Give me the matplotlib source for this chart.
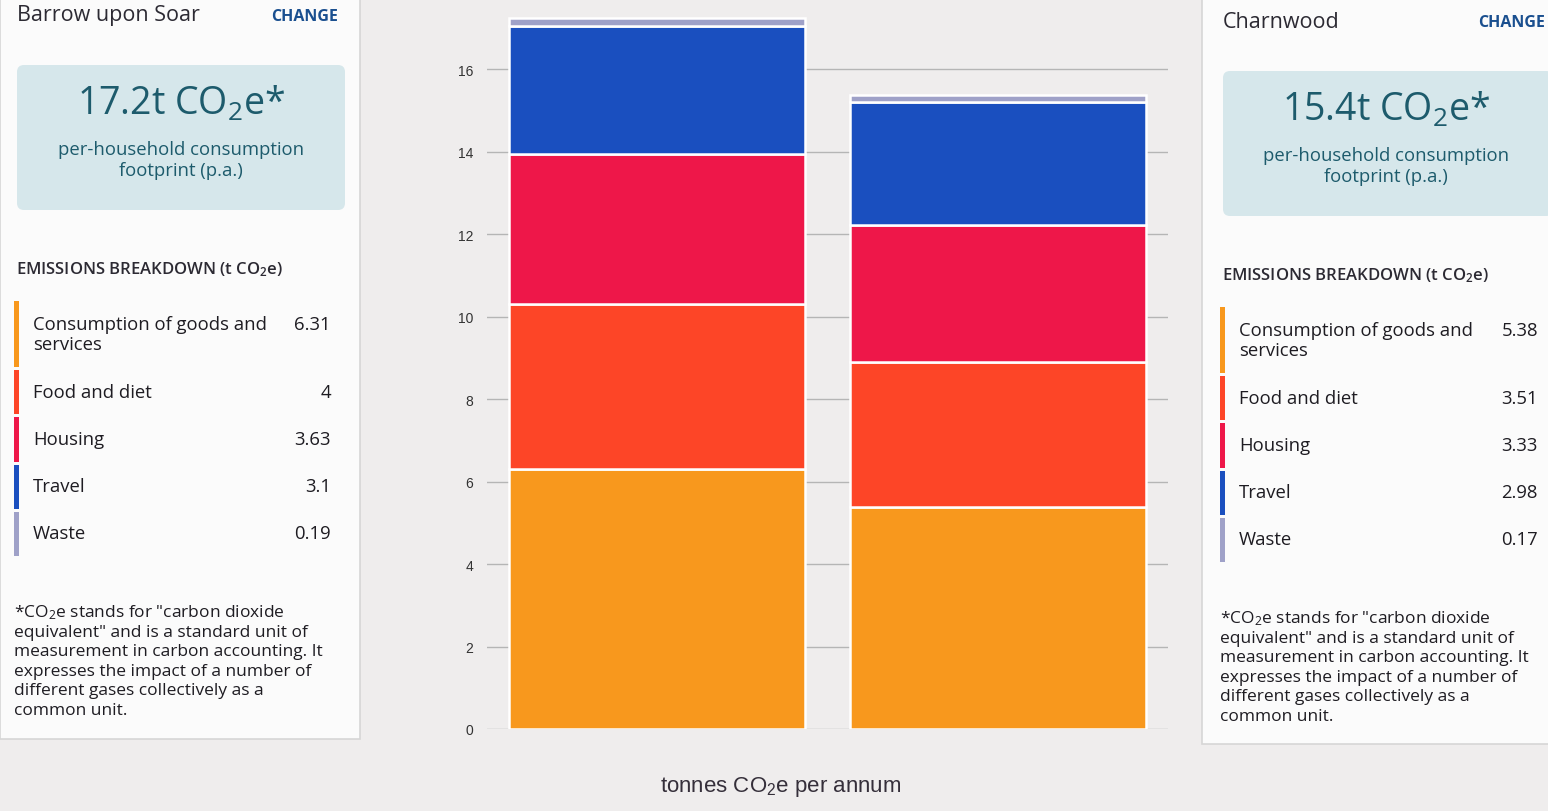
import numpy as np
import matplotlib
matplotlib.use("Agg")
import matplotlib.pyplot as plt
from matplotlib.patches import Rectangle, FancyBboxPatch

plt.rcParams['font.family'] = ['Open Sans', 'DejaVu Sans']
plt.rcParams['mathtext.default'] = 'regular'

# ---- data ----
areas = ['Barrow upon Soar', 'Charnwood']
categories = ['Consumption of goods and\nservices', 'Food and diet',
              'Housing', 'Travel', 'Waste']
barrow = [6.31, 4, 3.63, 3.1, 0.19]
charnwood = [5.38, 3.51, 3.33, 2.98, 0.17]
yticks = [0, 2, 4, 6, 8, 10, 12, 14, 16]
footnote = ['*CO$_2$e stands for "carbon dioxide',
            'equivalent" and is a standard unit of',
            'measurement in carbon accounting. It',
            'expresses the impact of a number of',
            'different gases collectively as a',
            'common unit.']

colors = ['#f8981d', '#fd4527', '#ee1749', '#1a4fbf', '#9fa1c8']
PAGE = '#efeded'
CARD = '#fbfbfb'
TEAL = '#1d5b6c'
INK = '#2c2a33'
TXT = '#1e1c22'

W, H = 1548, 812
fig = plt.figure(figsize=(W / 100, H / 100), dpi=100, facecolor=PAGE)

# overlay axes in pixel coordinates for the two side cards
ov = fig.add_axes([0, 0, 1, 1], zorder=0)
ov.set_xlim(0, W); ov.set_ylim(H, 0); ov.axis('off')


def card(rect, dy, name, change_r, box, cx, val_r, values):
    x0, y0, w, h = rect
    ov.add_patch(Rectangle((x0, y0), w, h, fc=CARD, ec='#d6d6d6', lw=1.2))
    xl = box[0]
    ov.text(xl, 16 + dy, name, fontsize=15.5, color=INK, va='center')
    ov.text(change_r, 17 + dy, 'CHANGE', fontsize=11.5, color='#1a4f8f',
            fontweight='bold', va='center', ha='right')
    ov.add_patch(FancyBboxPatch((box[0], 66 + dy), box[1], 145,
                                boxstyle='round,pad=0,rounding_size=7',
                                fc='#d6e7eb', ec='none'))
    total = sum(values)
    ov.text(cx, 104 + dy, f'{total:.1f}t CO$_2$e*', fontsize=27,
            color=TEAL, ha='center', va='center')
    ov.text(cx, 150 + dy, 'per-household consumption', fontsize=13.3,
            color=TEAL, ha='center', va='center')
    ov.text(cx, 171 + dy, 'footprint (p.a.)', fontsize=13.3,
            color=TEAL, ha='center', va='center')
    ov.text(xl - 1, 270 + dy, 'EMISSIONS BREAKDOWN (t CO$_2$e)',
            fontsize=12, color=INK, fontweight='semibold', va='center')
    # legend rows
    tops = [302, 371, 418, 466, 513]
    bots = [368, 415, 463, 510, 557]
    texty = [325, 393, 440, 487, 534]
    for cat, v, c, t, b, ty in zip(categories, values, colors, tops, bots, texty):
        ov.add_patch(Rectangle((xl - 3, t + dy), 5, b - t, fc=c, ec='none'))
        for k, line in enumerate(cat.split('\n')):
            ov.text(xl + 16, ty + dy + 20 * k, line, fontsize=13.3,
                    color=TXT, va='center')
        ov.text(val_r, ty + dy, f'{v:g}', fontsize=13.3, color=TXT,
                ha='right', va='center')
    for k, line in enumerate(footnote):
        ov.text(xl - 3, 613 + dy + 19.6 * k, line, fontsize=12.5,
                color=TXT, va='center')


card((0, -2, 360, 742), 0, areas[0], 338, (17, 328), 181, 331, barrow)
card((1202, -2, 350, 747), 6, areas[1], 1545, (1223, 330), 1386, 1538, charnwood)

# ---- stacked bar chart ----
ax = fig.add_axes([487 / W, (H - 730) / H, (1168 - 487) / W, 730 / H], zorder=1)
ax.set_facecolor('none')
x = np.arange(len(areas))
bottom = np.zeros(len(areas))
data = np.array([barrow, charnwood])
for i, c in enumerate(colors):
    vals = data[:, i]
    ax.bar(x, vals, bottom=bottom, width=0.87, color=c,
           edgecolor='white', linewidth=1.8, zorder=2)
    bottom += vals

ax.set_xlim(-0.5, 1.5)
ax.set_ylim(0, 17.7)
ax.set_yticks(yticks)
ax.set_yticklabels([str(t) for t in yticks], family=['Liberation Sans'],
                   fontsize=10, color='#333333')
ax.set_xticks([])
ax.tick_params(axis='y', length=0, pad=10)
ax.grid(axis='y', color='#b5b5b5', lw=1, zorder=0)
for s in ax.spines.values():
    s.set_visible(False)

fig.text(781 / W, 1 - 787 / H, 'tonnes CO$_2$e per annum', ha='center',
         va='center', fontsize=16, color='#352f3a', family=['Liberation Sans'])

fig.savefig('out.png', dpi=100, facecolor=PAGE)
